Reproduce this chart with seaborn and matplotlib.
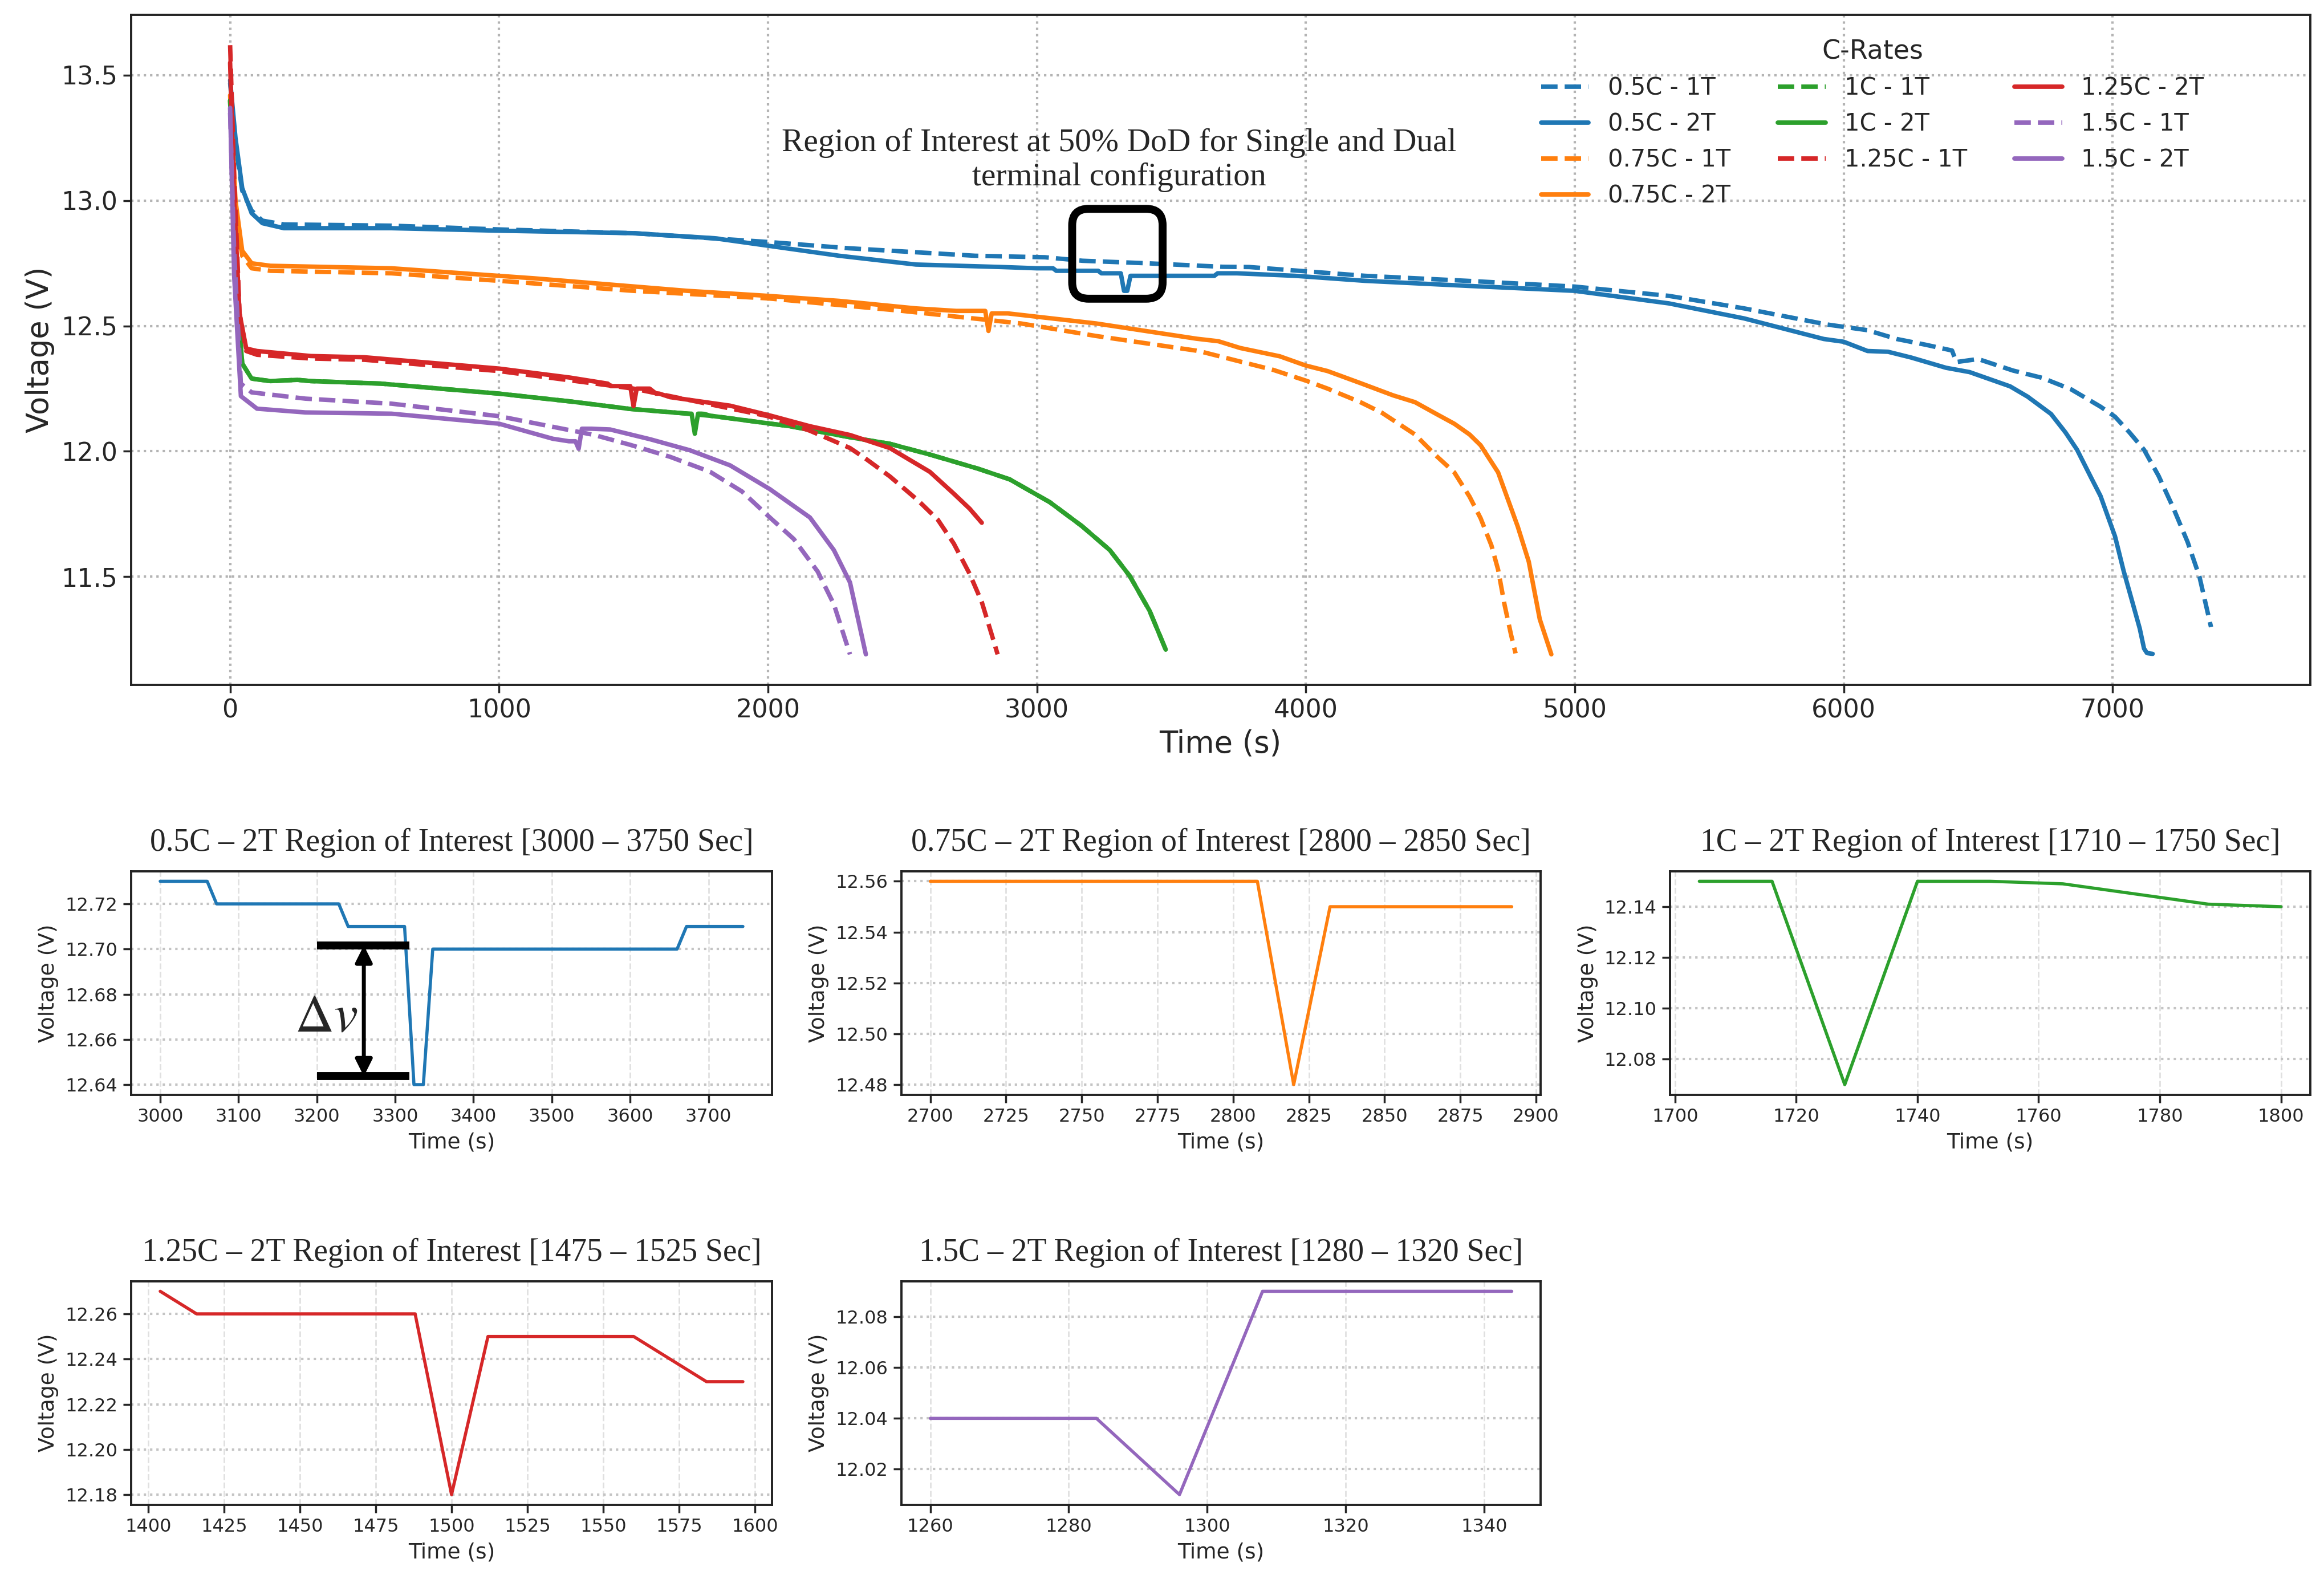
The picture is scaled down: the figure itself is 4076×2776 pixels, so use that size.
"""
Discharge voltage curves for single (1T) and dual (2T) terminal configurations,
with zoomed regions of interest around the voltage dips of the 2T runs.
"""
import pandas as pd
import matplotlib
matplotlib.use("Agg")
import matplotlib.pyplot as plt
import seaborn as sns
from matplotlib.patches import FancyBboxPatch
from matplotlib.ticker import MultipleLocator, FormatStrFormatter

sns.set_theme(style="ticks")
plt.rcParams["font.family"] = ["DejaVu Sans"]
plt.rcParams["mathtext.fontset"] = "stix"
plt.rcParams["xtick.major.size"] = 5
plt.rcParams["ytick.major.size"] = 5
SERIF = ["Liberation Serif", "DejaVu Serif"]

# ---- data (time in s, voltage in V) ----
t_05c_1t = [0, 20, 45, 80, 120, 200, 600, 1000, 1500, 2000, 2300, 2770, 3030, 3170, 3410,
            3690, 3790, 3975, 4220, 4600, 5000, 5350, 5630, 5937, 6089, 6197, 6305, 6403,
            6419, 6500, 6630, 6738, 6846, 6955, 7009, 7063, 7117, 7171, 7225, 7279, 7323, 7366]
v_05c_1t = [13.47, 13.22, 13.04, 12.96, 12.92, 12.905, 12.90, 12.885, 12.87, 12.835, 12.81,
            12.78, 12.774, 12.76, 12.75, 12.736, 12.735, 12.72, 12.70, 12.68, 12.657, 12.62,
            12.57, 12.506, 12.483, 12.448, 12.425, 12.402, 12.356, 12.368, 12.322, 12.293,
            12.247, 12.178, 12.138, 12.075, 12.006, 11.902, 11.776, 11.638, 11.50, 11.299]

t_05c_2t = [0, 20, 45, 80, 120, 200, 600, 1000, 1500, 1800, 2000, 2265, 2550, 2870, 3000,
            3060, 3072, 3228, 3240, 3312, 3324, 3336, 3348, 3660, 3672, 3744, 3960, 4220,
            4600, 5000, 5350, 5630, 5926, 6000, 6089, 6165, 6251, 6381, 6468, 6619, 6684,
            6771, 6825, 6868, 6922, 6955, 7009, 7041, 7074, 7101, 7117, 7128, 7149]
v_05c_2t = [13.48, 13.25, 13.05, 12.95, 12.91, 12.89, 12.89, 12.88, 12.87, 12.85, 12.82,
            12.78, 12.745, 12.735, 12.73, 12.73, 12.72, 12.72, 12.71, 12.71, 12.64, 12.64,
            12.70, 12.70, 12.71, 12.71, 12.70, 12.68, 12.66, 12.64, 12.59, 12.53, 12.448,
            12.437, 12.40, 12.397, 12.374, 12.333, 12.316, 12.259, 12.218, 12.149, 12.075,
            12.006, 11.891, 11.822, 11.661, 11.523, 11.397, 11.293, 11.213, 11.195, 11.192]

t_075c_1t = [0, 20, 45, 80, 150, 600, 1000, 1500, 2000, 2500, 2940, 3220, 3602, 3756, 3878,
             4000, 4081, 4203, 4284, 4406, 4487, 4552, 4609, 4650, 4690, 4715, 4739, 4763, 4780]
v_075c_1t = [13.40, 12.95, 12.78, 12.73, 12.72, 12.71, 12.68, 12.64, 12.61, 12.56, 12.51,
             12.46, 12.40, 12.358, 12.325, 12.282, 12.25, 12.196, 12.153, 12.067, 11.98,
             11.916, 11.819, 11.733, 11.625, 11.528, 11.388, 11.269, 11.194]

t_075c_2t = [0, 20, 45, 80, 150, 600, 1130, 1700, 2000, 2265, 2550, 2700, 2808, 2820, 2832,
             2892, 3220, 3594, 3675, 3756, 3903, 4000, 4081, 4203, 4325, 4406, 4487, 4552,
             4609, 4650, 4715, 4788, 4829, 4870, 4913]
v_075c_2t = [13.42, 13.00, 12.80, 12.75, 12.74, 12.73, 12.69, 12.64, 12.62, 12.60, 12.57,
             12.56, 12.56, 12.48, 12.55, 12.55, 12.51, 12.449, 12.439, 12.412, 12.379, 12.342,
             12.32, 12.272, 12.223, 12.196, 12.148, 12.11, 12.067, 12.024, 11.916, 11.70,
             11.56, 11.33, 11.19]

t_1c_1t = [0, 20, 45, 80, 150, 250, 300, 560, 1000, 1264, 1487, 1704, 1800, 1933, 2082,
           2305, 2453, 2602, 2780, 2899, 3048, 3167, 3271, 3345, 3419, 3479]
v_1c_1t = [13.40, 12.70, 12.35, 12.29, 12.28, 12.285, 12.28, 12.27, 12.23, 12.199, 12.169,
           12.15, 12.14, 12.121, 12.10, 12.056, 12.03, 11.987, 11.931, 11.888, 11.797,
           11.702, 11.606, 11.503, 11.364, 11.209]

t_1c_2t = [0, 20, 45, 80, 150, 250, 300, 560, 1000, 1264, 1487, 1704, 1716, 1728, 1740,
           1752, 1764, 1776, 1788, 1800, 1933, 2082, 2305, 2453, 2602, 2780, 2899, 3048,
           3167, 3271, 3345, 3419, 3479]
v_1c_2t = [13.40, 12.70, 12.35, 12.29, 12.28, 12.285, 12.28, 12.27, 12.23, 12.199, 12.169,
           12.15, 12.15, 12.07, 12.15, 12.15, 12.149, 12.145, 12.141, 12.14, 12.121, 12.10,
           12.056, 12.03, 11.987, 11.931, 11.888, 11.797, 11.702, 11.606, 11.503, 11.364,
           11.209]

t_125c_1t = [0, 15, 35, 60, 100, 300, 500, 1000, 1500, 2000, 2156, 2230, 2305, 2364, 2453,
             2557, 2631, 2691, 2750, 2795, 2832, 2854]
v_125c_1t = [13.62, 13.10, 12.55, 12.40, 12.385, 12.37, 12.365, 12.32, 12.25, 12.14, 12.082,
             12.048, 12.013, 11.97, 11.90, 11.805, 11.728, 11.632, 11.511, 11.399, 11.269,
             11.19]

t_125c_2t = [0, 15, 35, 60, 100, 300, 500, 1000, 1264, 1404, 1416, 1488, 1500, 1512, 1560,
             1584, 1596, 1636, 1859, 2007, 2156, 2305, 2453, 2602, 2691, 2750, 2795]
v_125c_2t = [13.55, 13.00, 12.55, 12.41, 12.40, 12.38, 12.375, 12.33, 12.294, 12.27, 12.26,
             12.26, 12.18, 12.25, 12.25, 12.23, 12.23, 12.216, 12.182, 12.143, 12.10, 12.065,
             12.013, 11.918, 11.831, 11.771, 11.715]

t_15c_1t = [0, 15, 40, 80, 280, 600, 1000, 1354, 1487, 1636, 1785, 1903, 2007, 2096, 2185,
            2245, 2305]
v_15c_1t = [13.35, 12.80, 12.27, 12.235, 12.21, 12.19, 12.14, 12.065, 12.026, 11.978, 11.918,
            11.84, 11.736, 11.65, 11.52, 11.39, 11.19]

t_15c_2t = [0, 15, 40, 100, 280, 600, 1000, 1200, 1260, 1284, 1296, 1308, 1344, 1413, 1562,
            1710, 1859, 2007, 2156, 2245, 2305, 2364]
v_15c_2t = [13.37, 12.70, 12.22, 12.17, 12.155, 12.15, 12.11, 12.05, 12.04, 12.04, 12.01,
            12.09, 12.09, 12.087, 12.048, 12.004, 11.944, 11.849, 11.736, 11.606, 11.477, 11.19]

labels = ["0.5C - 1T", "0.5C - 2T", "0.75C - 1T", "0.75C - 2T", "1C - 1T", "1C - 2T",
          "1.25C - 1T", "1.25C - 2T", "1.5C - 1T", "1.5C - 2T"]
times = [t_05c_1t, t_05c_2t, t_075c_1t, t_075c_2t, t_1c_1t, t_1c_2t,
         t_125c_1t, t_125c_2t, t_15c_1t, t_15c_2t]
volts = [v_05c_1t, v_05c_2t, v_075c_1t, v_075c_2t, v_1c_1t, v_1c_2t,
         v_125c_1t, v_125c_2t, v_15c_1t, v_15c_2t]
colors = ["#1f77b4", "#1f77b4", "#ff7f0e", "#ff7f0e", "#2ca02c", "#2ca02c",
          "#d62728", "#d62728", "#9467bd", "#9467bd"]
styles = ["--", "-"] * 5

# regions of interest (2T series): label, window, title, x tick step
roi_labels = ["0.5C - 2T", "0.75C - 2T", "1C - 2T", "1.25C - 2T", "1.5C - 2T"]
roi_windows = [(3000, 3744), (2700, 2892), (1704, 1800), (1404, 1596), (1260, 1344)]
roi_titles = ["0.5C \u2013 2T Region of Interest [3000 \u2013 3750 Sec]",
              "0.75C \u2013 2T Region of Interest [2800 \u2013 2850 Sec]",
              "1C \u2013 2T Region of Interest [1710 \u2013 1750 Sec]",
              "1.25C \u2013 2T Region of Interest [1475 \u2013 1525 Sec]",
              "1.5C \u2013 2T Region of Interest [1280 \u2013 1320 Sec]"]
roi_xstep = [100, 25, 20, 25, 20]

df = pd.concat([pd.DataFrame({"label": lab, "time": t, "voltage": v})
                for lab, t, v in zip(labels, times, volts)], ignore_index=True)

fig = plt.figure(figsize=(20.38, 13.88), dpi=200)
ax = fig.add_axes([0.0564, 0.5674, 0.9376, 0.4233])
roi_axes = [fig.add_axes([0.0564, 0.3084, 0.2758, 0.1413]),
            fig.add_axes([0.3878, 0.3084, 0.2752, 0.1413]),
            fig.add_axes([0.7187, 0.3084, 0.2753, 0.1413]),
            fig.add_axes([0.0564, 0.0494, 0.2758, 0.1413]),
            fig.add_axes([0.3878, 0.0494, 0.2752, 0.1413])]

# Main overview plot
for lab, col, ls in zip(labels, colors, styles):
    sub = df[df["label"] == lab]
    sns.lineplot(data=sub, x="time", y="voltage", ax=ax, color=col, linestyle=ls,
                 lw=2.8, label=lab, estimator=None, sort=False, errorbar=None)

ax.xaxis.set_major_locator(MultipleLocator(1000))
ax.yaxis.set_major_locator(MultipleLocator(0.5))
ax.grid(True, linestyle=":", color="#b4b4b4", lw=1.5)
ax.set_xlabel("Time (s)", fontsize=19)
ax.set_ylabel("Voltage (V)", fontsize=19)
ax.tick_params(labelsize=16)
for s in ax.spines.values():
    s.set_color("#222222")
    s.set_linewidth(1.4)

ax.legend(title="C-Rates", ncol=3, loc="upper right", bbox_to_anchor=(0.961, 0.996),
          frameon=False, fontsize=15, title_fontsize=16.5)

ax.text(0.4535, 0.783, "Region of Interest at 50% DoD for Single and Dual\nterminal configuration",
        transform=ax.transAxes, ha="center", va="center", multialignment="center",
        fontsize=20.7, family=SERIF)
ax_w, ax_h = 0.9376 * 20.38, 0.4233 * 13.88
ax.add_patch(FancyBboxPatch((0.4319, 0.5762), 0.0415, 0.1341,
                            boxstyle="round,pad=0,rounding_size=0.0075",
                            mutation_aspect=ax_w / ax_h, transform=ax.transAxes,
                            fill=False, ec="black", lw=5, zorder=5))

# Region-of-interest panels
for rax, lab, (t0, t1), title, xs in zip(roi_axes, roi_labels, roi_windows, roi_titles, roi_xstep):
    sub = df[(df["label"] == lab) & (df["time"] >= t0) & (df["time"] <= t1)]
    col = colors[labels.index(lab)]
    sns.lineplot(data=sub, x="time", y="voltage", ax=rax, color=col, lw=2.0,
                 estimator=None, sort=False, errorbar=None)
    rax.xaxis.set_major_locator(MultipleLocator(xs))
    rax.yaxis.set_major_locator(MultipleLocator(0.02))
    rax.yaxis.set_major_formatter(FormatStrFormatter("%.2f"))
    rax.grid(True, axis="y", linestyle=":", color="#c4c4c4", lw=1.5)
    rax.grid(True, axis="x", linestyle="--", color="#e0e0e0", lw=1.0)
    rax.set_xlabel("Time (s)", fontsize=13.5)
    rax.set_ylabel("Voltage (V)", fontsize=13.5)
    rax.tick_params(labelsize=11.5)
    rax.set_title(title, fontsize=20, family=SERIF, pad=13)
    for s in rax.spines.values():
        s.set_color("#222222")
        s.set_linewidth(1.4)

# delta-v marker on the first panel
a0 = roi_axes[0]
dv_top, dv_bot, dv_x0, dv_x1, dv_xa = 12.7016, 12.6437, 3200, 3318, 3260
a0.hlines([dv_top, dv_bot], dv_x0, dv_x1, color="black", lw=5, zorder=4)
a0.annotate("", xy=(dv_xa, dv_bot), xytext=(dv_xa, dv_top),
            arrowprops=dict(arrowstyle="<|-|>", color="black", lw=2.5, mutation_scale=22,
                            shrinkA=0, shrinkB=0))
a0.text(3212, 12.6703, r"$\Delta v$", fontsize=34, ha="center", va="center")

fig.savefig("out.png", dpi=200)
